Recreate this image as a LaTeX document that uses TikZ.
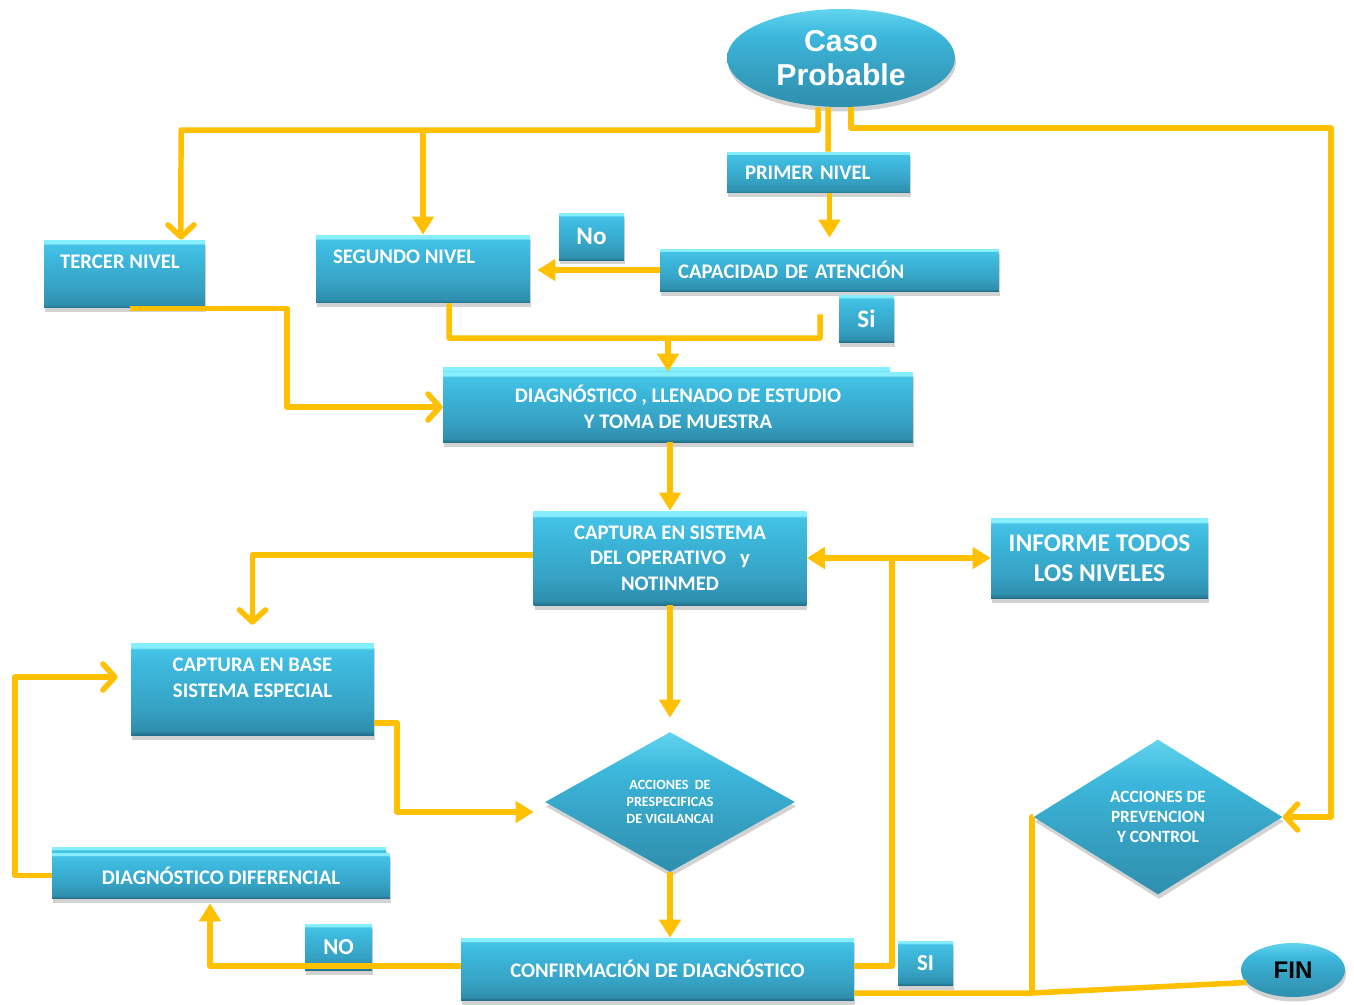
\documentclass[tikz,border=0pt]{standalone}
\usepackage{fontspec}
\setmainfont{Carlito}
\newfontfamily\arialfont{Liberation Sans}
\usetikzlibrary{shapes.geometric,arrows.meta,shadows}

\definecolor{linkor}{RGB}{255,192,0}
\definecolor{bvdark}{RGB}{35,112,138}
\definecolor{bvlow}{RGB}{47,143,174}
\definecolor{bvmidb}{RGB}{54,162,196}
\definecolor{bvmid}{RGB}{60,184,220}
\definecolor{bvhi}{RGB}{69,195,230}
\definecolor{bvlight}{RGB}{134,238,252}
\definecolor{bvpale}{RGB}{98,212,238}
% bevelled box and rounded shape fills
\pgfdeclareverticalshading{bevelbox}{100bp}{color(0bp)=(bvdark); color(25bp)=(bvdark); color(27.5bp)=(bvlow); color(40bp)=(bvmidb); color(62bp)=(bvmid); color(71.5bp)=(bvhi); color(72.5bp)=(bvlight); color(75bp)=(bvlight); color(100bp)=(bvlight)}
\pgfdeclareverticalshading{softbox}{100bp}{color(0bp)=(bvlow); color(25bp)=(bvlow); color(45bp)=(bvmidb); color(62bp)=(bvmid); color(75bp)=(bvpale); color(100bp)=(bvpale)}

\begin{document}
\begin{tikzpicture}[x=0.02cm, y=0.02cm,
    shade/.style={drop shadow={opacity=0.35, shadow xshift=0.02cm, shadow yshift=-0.09cm}},
    box/.style={rectangle, shading=bevelbox, inner sep=0pt, text=white, font=\boxfont, shade},
    oval/.style={ellipse, shading=softbox, inner sep=0pt, text=white, shade},
    rhomb/.style={diamond, shading=softbox, inner sep=0pt, text=white, align=center, shade},
    txt/.style={inner sep=0pt, text=white, font=\boxfont},
    conn/.style={draw=linkor, line width=0.11cm, line join=round},
    tri/.style={arrows={-Triangle[length=0.36cm,width=0.42cm]}},
    both/.style={arrows={Triangle[length=0.36cm,width=0.42cm]-Triangle[length=0.36cm,width=0.42cm]}},
    barb/.style={arrows={-Straight Barb[length=0.24cm,width=0.52cm,round]}}]
  \newcommand{\boxfont}{\fontsize{11.8}{14.6}\selectfont\bfseries}
  \newcommand{\bigboxfont}{\fontsize{14.5}{17}\selectfont\bfseries}
  \newcommand{\tagfont}{\fontsize{14.3}{16}\selectfont\bfseries}
  \newcommand{\capsfont}{\fontsize{13}{15}\selectfont\bfseries}
  \newcommand{\diafont}{\fontsize{8}{9.9}\selectfont\bfseries}
  \newcommand{\diabfont}{\fontsize{9.8}{11.6}\selectfont\bfseries}
  \newcommand{\casofont}{\arialfont\bfseries\fontsize{17.2}{19.3}\selectfont}
  \newcommand{\finfont}{\arialfont\bfseries\fontsize{13.7}{15}\selectfont}
  \path[use as bounding box, fill=white] (0,0) rectangle (1354,-1004);

  % start and the three levels
  \node[oval, minimum width=4.56cm, minimum height=1.96cm, font=\casofont, align=center] (caso) at (841,-58) {Caso\\Probable};
  \node[box, text width=2.94cm, inner xsep=0.36cm, minimum height=0.82cm, align=left] (primer) at (818.5,-172.5) {PRIMER NIVEL};
  \node[box, minimum width=3.22cm, minimum height=1.36cm] (tercer) at (124.5,-274) {};
  \node[txt, anchor=west] (tercerT) at ([xshift=0.32cm,yshift=0.24cm]tercer.west) {TERCER NIVEL};
  \node[box, minimum width=4.28cm, minimum height=1.36cm] (segundo) at (423,-269) {};
  \node[txt, anchor=west] (segundoT) at ([xshift=0.34cm,yshift=0.24cm]segundo.west) {SEGUNDO NIVEL};
  \node[box, minimum width=1.3cm, minimum height=0.94cm, font=\tagfont] (noA) at (591.5,-236.5) {No};
  \node[box, text width=6.06cm, inner xsep=0.36cm, minimum height=0.84cm, align=left] (capacidad) at (829.5,-270) {CAPACIDAD DE ATENCIÓN};
  \node[box, minimum width=1.1cm, minimum height=0.94cm, font=\tagfont] (siA) at (866.5,-318.5) {Si};

  % diagnosis and capture
  \shade[shading=bevelbox, shade] (443,-367) rectangle (890,-437);
  \node[box, minimum width=9.4cm, minimum height=1.4cm, align=center] (diag) at (678,-407) {DIAGNÓSTICO , LLENADO DE ESTUDIO\\Y TOMA DE MUESTRA};
  \node[box, minimum width=5.46cm, minimum height=1.88cm, align=center] (captura) at (670,-558) {CAPTURA EN SISTEMA\\DEL OPERATIVO\ \ \ y\\NOTINMED};
  \node[box, minimum width=4.34cm, minimum height=1.6cm, align=center, font=\bigboxfont] (informe) at (1099.5,-558) {INFORME TODOS\\LOS NIVELES};
  \node[box, minimum width=4.86cm, minimum height=1.84cm] (base) at (252.5,-689) {};
  \node[txt, align=center] (baseT) at ([yshift=0.23cm]base.center) {CAPTURA EN BASE\\SISTEMA ESPECIAL};

  % actions, confirmation, end
  \node[rhomb, minimum width=5cm, minimum height=2.8cm, font=\diafont] (acc1) at (670,-802) {ACCIONES\ \ DE\\PRESPECIFICAS\\DE VIGILANCAI};
  \node[rhomb, minimum width=4.98cm, minimum height=3.1cm, font=\diabfont] (acc2) at (1158,-817) {ACCIONES DE\\PREVENCION\\Y CONTROL};
  \shade[shading=bevelbox, shade] (52,-847) rectangle (386,-893);
  \node[box, minimum width=6.76cm, minimum height=0.9cm] (difer) at (221,-875.5) {DIAGNÓSTICO DIFERENCIAL};
  \node[box, minimum width=7.86cm, minimum height=1.24cm] (conf) at (657.5,-969) {CONFIRMACIÓN DE DIAGNÓSTICO};
  \node[box, minimum width=1.34cm, minimum height=0.92cm, font=\capsfont] (noB) at (338.5,-947) {NO};
  \node[box, minimum width=1.1cm, minimum height=0.88cm, font=\capsfont] (siB) at (925.5,-963) {SI};
  \node[oval, minimum width=2.08cm, minimum height=1.08cm, font=\finfont, text=black] (fin) at (1293,-970) {FIN};

  % connectors
  \coordinate (branch) at (181,-130);
  \draw[conn, barb] ([xshift=-0.46cm]caso.south) |- (branch) -- ([xshift=1.13cm]tercer.north);
  \draw[conn, tri] (segundo.north |- branch) -- (segundo.north);
  \draw[conn] ([xshift=-0.26cm]caso.south) -- ([xshift=0.19cm]primer.north);
  \draw[conn, barb] ([xshift=0.2cm]caso.south) |- (1331,-128) |- (acc2.east);
  \draw[conn, tri] (capacidad.north |- primer.south) -- ([yshift=0.22cm]capacidad.north);
  \draw[conn, tri, shorten >=0.14cm] (capacidad.west) -- (segundo.east |- capacidad.west);
  \draw[conn] ([xshift=0.52cm]segundo.south) |- (820,-338) -- ([xshift=-0.19cm,yshift=-0.46cm]capacidad.south);
  \coordinate (merge) at (668,-338);
  \draw[conn, tri] (merge) -- (merge |- diag.north);
  \draw[conn, barb] ([xshift=0.11cm]tercer.south) -| (287,-380) |- (diag.west);
  \draw[conn, tri] (captura.north |- diag.south) -- (captura.north);
  \draw[conn, barb, shorten >=0.36cm] ([yshift=0.06cm]captura.west) -| (base.north);
  \draw[conn, tri, shorten >=0.28cm] (captura.south) -- (acc1.north);
  \draw[conn, tri, shorten >=0.22cm] ([yshift=-0.68cm]base.east) -| (397,-780) |- ([yshift=-0.2cm]acc1.west);
  \draw[conn, tri] (acc1.south) -- (acc1.south |- conf.north);
  \draw[conn, tri, shorten >=0.1cm] ([yshift=0.06cm]conf.west) -| ([xshift=-0.22cm]difer.south);
  \draw[conn, barb, shorten >=0.26cm] (difer.west) -| (15,-760) |- ([yshift=0.24cm]base.west);
  \coordinate (hub) at (892,-558);
  \draw[conn] ([yshift=0.06cm]conf.east) -| (hub);
  \draw[conn, both] (captura.east) -- (informe.west);
  \coordinate (knee) at (1032,-993);
  \draw[conn] ([yshift=-0.48cm]conf.east) -- (knee) -- (fin.195);
  \draw[conn] (knee) |- (acc2.west);
\end{tikzpicture}
\end{document}
